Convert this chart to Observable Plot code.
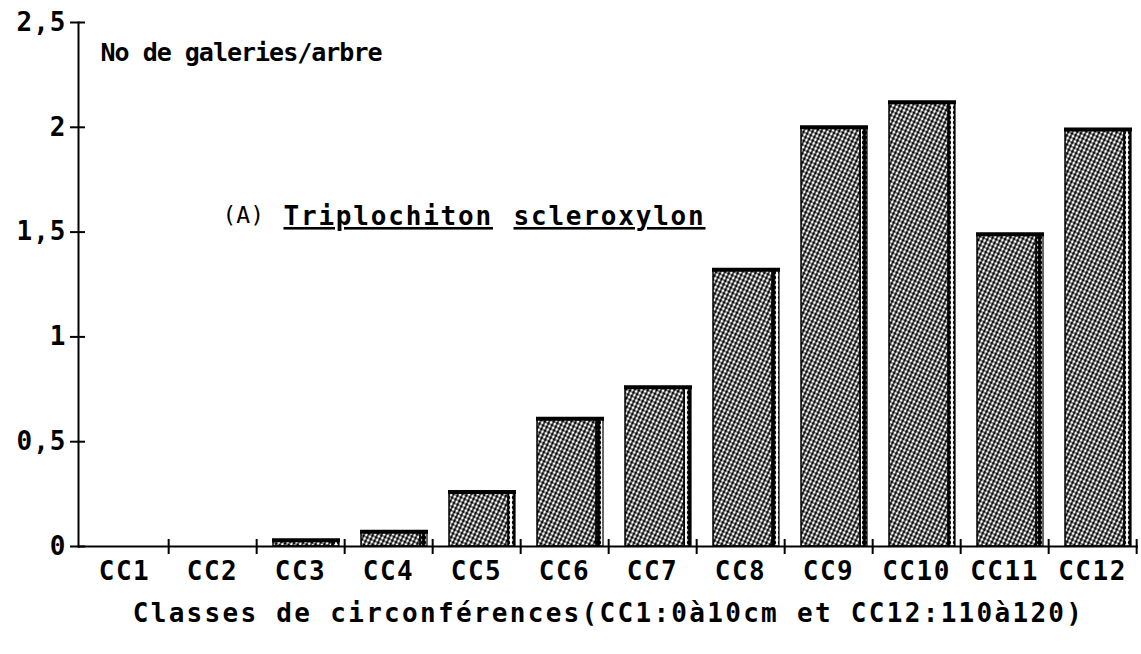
<!DOCTYPE html>
<html>
<head>
<meta charset="utf-8">
<script src="https://cdn.jsdelivr.net/npm/d3@7"></script>
<script src="https://cdn.jsdelivr.net/npm/@observablehq/plot@0.6"></script>
<style>
  html, body { margin: 0; padding: 0; background: #fff; }
</style>
</head>
<body>
<div id="chart"></div>
<script>
// ---- data ----
const categories = ["CC1", "CC2", "CC3", "CC4", "CC5", "CC6", "CC7", "CC8", "CC9", "CC10", "CC11", "CC12"];
const values = [0, 0, 0.03, 0.07, 0.26, 0.61, 0.76, 1.32, 2.0, 2.12, 1.49, 1.99];
const yTicks = [0, 0.5, 1, 1.5, 2, 2.5];
const yTickLabels = ["0", "0,5", "1", "1,5", "2", "2,5"];
const yTitle = "No de galeries/arbre";
const xTitle = "Classes de circonférences(CC1:0à10cm et CC12:110à120)";
const panelTag = "(A)";
const speciesWords = ["Triplochiton", "scleroxylon"];

const table = categories.map((c, i) => ({cat: c, value: values[i]}));

// ---- layout ----
const W = 1141, H = 654;
const mL = 78, mR = 3, mT = 22, mB = 108;
const frameW = W - mL - mR, frameH = H - mT - mB;
const bw = frameW / categories.length;
const padL = 17, padR = 5, side = 7;
const font = "'DejaVu Sans Mono', monospace";

const svg = Plot.plot({
  width: W,
  height: H,
  marginLeft: mL,
  marginRight: mR,
  marginTop: mT,
  marginBottom: mB,
  style: {fontFamily: font, fontWeight: "bold", fontSize: "25px", color: "#000", background: "#fff"},
  x: {type: "band", domain: categories, padding: 0, axis: null},
  y: {domain: [0, 2.5], axis: null},
  marks: [
    // bar body
    Plot.barY(table.filter(d => d.value > 0), {
      x: "cat", y: "value", fill: "url(#hatch)", stroke: "#000", strokeWidth: 1.5,
      insetLeft: padL, insetRight: padR + side
    }),
    // 3D side strip
    Plot.barY(table.filter(d => d.value > 0), {
      x: "cat", y: "value", fill: "url(#sidepat)", stroke: "#000", strokeWidth: 1.2,
      insetLeft: bw - padR - side, insetRight: padR
    }),
    // thick top edge
    Plot.tickY(table.filter(d => d.value > 0), {
      x: "cat", y: "value", stroke: "#000", strokeWidth: 4,
      insetLeft: padL - 1, insetRight: padR - 1
    }),
    // axes lines
    Plot.ruleY([0], {stroke: "#000", strokeWidth: 2}),
    Plot.frame({anchor: "left", stroke: "#000", strokeWidth: 2}),
    // y ticks crossing the axis
    Plot.tickY(yTicks, {y: d => d, stroke: "#000", strokeWidth: 2, insetLeft: -8, insetRight: frameW - 7}),
    // x ticks at band boundaries
    Plot.tickX(categories, {x: d => d, dx: bw / 2, stroke: "#000", strokeWidth: 2, insetTop: frameH - 7, insetBottom: -8}),
    // y tick labels
    Plot.text(yTicks, {y: d => d, text: (d, i) => yTickLabels[i], frameAnchor: "left", dx: -12, textAnchor: "end", fontSize: 26, fontWeight: "bold"}),
    // x tick labels
    Plot.text(categories, {x: d => d, text: d => d, frameAnchor: "bottom", dy: 33, fontSize: 26, fontWeight: "bold"}),
    // x title
    Plot.text([xTitle], {text: d => d, frameAnchor: "bottom", dy: 75, fontSize: 26, fontWeight: "bold"}),
    // y title (inside plot, top-left)
    Plot.text([yTitle], {text: d => d, frameAnchor: "top-left", dx: 22, dy: 21, textAnchor: "start", fontSize: 25, fontWeight: "bold"}),
    // panel tag and species name
    Plot.text([panelTag], {text: d => d, frameAnchor: "top-left", dx: 144, dy: 184, textAnchor: "start", fontSize: 23, fontWeight: "normal"}),
    Plot.text([speciesWords[0]], {text: d => d, frameAnchor: "top-left", dx: 205, dy: 184, textAnchor: "start", fontSize: 26, fontWeight: "bold"}),
    Plot.text([speciesWords[1]], {text: d => d, frameAnchor: "top-left", dx: 435, dy: 184, textAnchor: "start", fontSize: 26, fontWeight: "bold"})
  ]
});

// patterns for the bar shading
const defs = d3.select(svg).insert("defs", ":first-child");
const hatch = defs.append("pattern").attr("id", "hatch").attr("patternUnits", "userSpaceOnUse")
  .attr("width", 4).attr("height", 4).attr("patternTransform", "rotate(25)");
hatch.append("rect").attr("width", 4).attr("height", 4).attr("fill", "#000");
hatch.append("ellipse").attr("cx", 2).attr("cy", 2).attr("rx", 1.45).attr("ry", 1.7).attr("fill", "#fff");
const sidep = defs.append("pattern").attr("id", "sidepat").attr("patternUnits", "userSpaceOnUse")
  .attr("width", 7).attr("height", 5);
sidep.append("rect").attr("width", 7).attr("height", 5).attr("fill", "#fff");
sidep.append("circle").attr("cx", 3.5).attr("cy", 2.5).attr("r", 2.6).attr("fill", "#000");

// text fine-tuning: letter spacing and underline
const sel = d3.select(svg).selectAll("text");
sel.each(function () {
  const t = this.textContent;
  const s = d3.select(this);
  if (t === xTitle) s.style("letter-spacing", "2.3px");
  else if (categories.includes(t)) s.style("letter-spacing", "1.5px");
  else if (t === yTitle) s.style("letter-spacing", "-1px");
  else if (speciesWords.includes(t)) s.style("letter-spacing", "1.8px").style("text-decoration", "underline").style("text-decoration-thickness", "3px");
  else if (yTickLabels.includes(t)) s.style("letter-spacing", "1px");
});

document.getElementById("chart").appendChild(svg);
</script>
</body>
</html>
